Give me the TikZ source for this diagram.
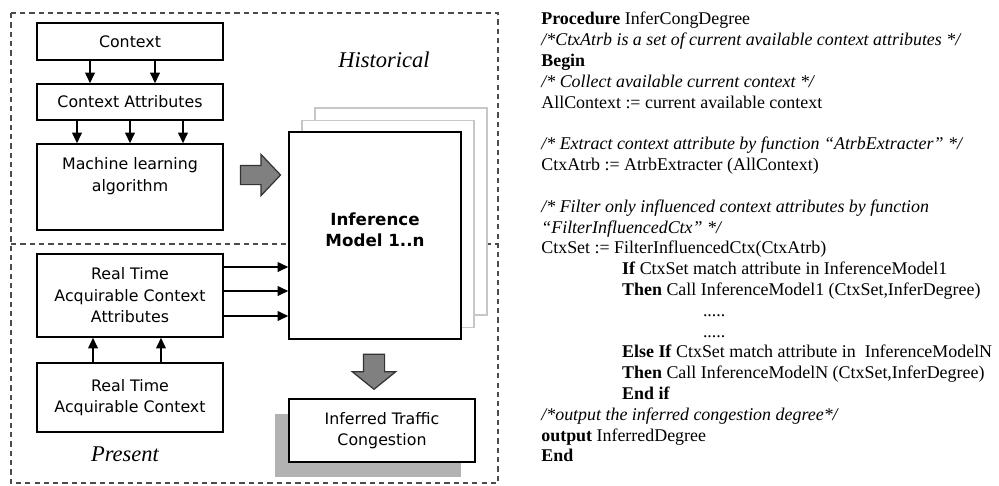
\documentclass[tikz,border=0pt]{standalone}
\usepackage{fontspec}
\setmainfont{Liberation Serif}
\setsansfont{DejaVu Sans}
\usetikzlibrary{arrows.meta,shapes.arrows,shadows}

\tikzset{
  box/.style={draw, line width=0.9pt, fill=white, minimum width=3.72cm, align=center, inner sep=1pt,
    font=\sffamily\fontsize{9}{12.2}\selectfont},
  page/.style={draw=black!22, line width=0.8pt, fill=white, minimum width=3.44cm, minimum height=4.14cm},
  arr/.style={-{Triangle[width=5.5pt,length=6pt]}, line width=0.8pt},
  frame/.style={draw=black!70, line width=0.9pt, dash pattern=on 3pt off 2.3pt},
  bigarrow/.style={single arrow, draw=black!80, fill=black!50, line width=0.7pt,
    minimum width=0pt, single arrow head indent=0pt},
  period/.style={font=\itshape\fontsize{12.8}{15}\selectfont},
}

\begin{document}
\begin{tikzpicture}[x=0.02cm, y=-0.02cm]
  \useasboundingbox (0,0) rectangle (999,485);

  % dashed frames: historical (top) and present (bottom)
  \draw[frame] (11,13) rectangle (498,483);
  \draw[frame] (11,244) -- (498,244);

  % historical part
  \node[box, minimum height=0.74cm] (ctx) at (130,41.5) {Context};
  \node[box, minimum height=0.72cm] (attr) at (130,102) {Context Attributes};
  \node[box, minimum height=1.72cm] (mla) at (130,187) {};
  \node[align=center, font=\sffamily\fontsize{9}{12.2}\selectfont] (mlatext) at (130,176) {Machine learning\\algorithm};
  \node[period] (hist) at (384,60) {Historical};

  \foreach \dx in {-0.8cm,0.5cm}
    \draw[arr] ([xshift=\dx]ctx.south) -- ([xshift=\dx]attr.north);
  \foreach \dx in {-1.06cm,0cm,1.06cm}
    \draw[arr] ([xshift=\dx]attr.south) -- ([xshift=\dx]mla.north);

  % stack of inference models
  \node[page] (page3) at (401,211.5) {};
  \node[page] (page2) at (388,224) {};
  \node[box, minimum width=3.44cm, minimum height=4.14cm] (model) at (375,235.5) {};
  \node[align=center, font=\sffamily\bfseries\fontsize{9.5}{12.2}\selectfont] (modeltext) at (375,230) {Inference\\Model 1..n};

  \node[bigarrow, inner xsep=0pt, inner ysep=0.18cm, single arrow head extend=0.22cm, single arrow tip angle=93,
    minimum height=0.8cm] (learn) at (256,175) {};

  % present part
  \node[box, minimum height=1.66cm] (rta) at (130,295.5) {Real Time\\Acquirable Context\\Attributes};
  \node[box, minimum height=1.38cm] (rtc) at (130,397.5) {Real Time\\Acquirable Context};
  \node[period] (pres) at (125,454) {Present};

  \foreach \dx in {-0.74cm,0.62cm}
    \draw[arr] ([xshift=\dx]rtc.north) -- ([xshift=\dx]rta.south);
  \foreach \dy in {0.57cm,0.09cm,-0.41cm}
    \draw[arr] ([yshift=\dy]rta.east) -- ([yshift=\dy]rta.east -| model.west);

  \node[bigarrow, inner xsep=0.2cm, inner ysep=0pt, single arrow head extend=0.22cm, single arrow tip angle=102,
    minimum height=0.7cm, shape border rotate=270] (infer) at (374,367.5) {};

  \node[box, minimum height=1.26cm,
    general shadow={fill=black!30, shadow xshift=-0.28cm, shadow yshift=-0.3cm}] (itc) at (382,430.5) {Inferred Traffic\\Congestion};

  % procedure
  \node[anchor=north west, inner sep=0pt, align=left, font=\fontsize{10.2}{11.84}\selectfont] (proc) at (541,12) {%
    \textbf{Procedure} InferCongDegree\\
    \textit{/*CtxAtrb is a set of current available context attributes */}\\
    \textbf{Begin}\\
    \textit{/* Collect available current context */}\\
    AllContext := current available context\\
    ~\\
    \textit{/* Extract context attribute by function ``AtrbExtracter'' */}\\
    CtxAtrb := AtrbExtracter (AllContext)\\
    ~\\
    \textit{/* Filter only influenced context attributes by function}\\
    \textit{``FilterInfluencedCtx'' */}\\
    CtxSet := FilterInfluencedCtx(CtxAtrb)\\
    \hspace*{46pt}\textbf{If} CtxSet match attribute in InferenceModel1\\
    \hspace*{46pt}\textbf{Then} Call InferenceModel1 (CtxSet,InferDegree)\\
    \hspace*{92pt}.....\\
    \hspace*{92pt}.....\\
    \hspace*{46pt}\textbf{Else If} CtxSet match attribute in\ \ InferenceModelN\\
    \hspace*{46pt}\textbf{Then} Call InferenceModelN (CtxSet,InferDegree)\\
    \hspace*{46pt}\textbf{End if}\\
    \textit{/*output the inferred congestion degree*/}\\
    \textbf{output} InferredDegree\\
    \textbf{End}};
\end{tikzpicture}
\end{document}
